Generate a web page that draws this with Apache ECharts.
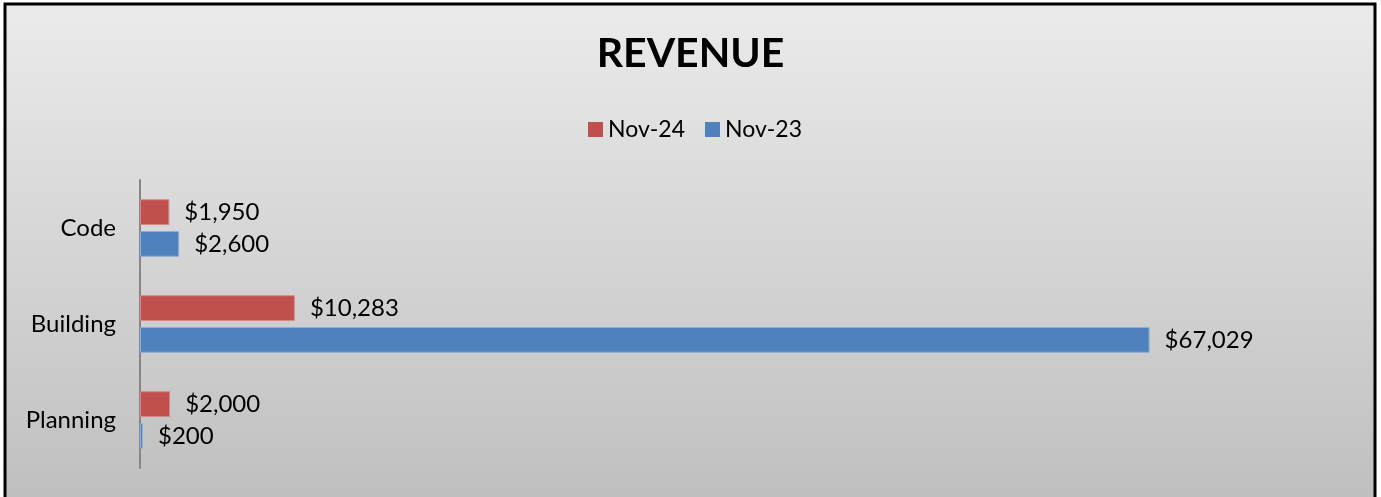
<!DOCTYPE html>
<html>
<head>
<meta charset="utf-8">
<script src="https://cdn.jsdelivr.net/npm/echarts@6/dist/echarts.min.js"></script>
<style>
  html, body { margin: 0; padding: 0; background: #fff; }
  #demo { width: 1381px; height: 497px; }
</style>
</head>
<body>
<div id="demo"></div>
<script>
// data (Excel order: first category at the bottom)
var categories = ['Planning', 'Building', 'Code'];
var nov24 = [2000, 10283, 1950];
var nov23 = [200, 67029, 2600];
var seriesNames = ['Nov-24', 'Nov-23'];

var myChart = echarts.init(document.getElementById('demo'));

function money(p) {
    return '$' + p.value.toLocaleString('en-US');
}

var labelStyle = {
    show: true,
    position: 'right',
    distance: 15,
    color: '#000',
    fontFamily: 'Lato',
    fontSize: 24,
    formatter: money
};

option = {
    backgroundColor: '#fff',
    textStyle: { fontFamily: 'Lato' },
    graphic: [
        {
            type: 'rect',
            z: -10,
            silent: true,
            shape: { x: 5, y: 4, width: 1370, height: 520 },
            style: {
                fill: new echarts.graphic.LinearGradient(0, 0, 0, 1, [
                    { offset: 0, color: '#ebebeb' },
                    { offset: 1, color: '#bdbdbd' }
                ]),
                stroke: '#000',
                lineWidth: 3
            }
        }
    ],
    title: {
        text: 'REVENUE',
        left: 'center',
        top: 28,
        textStyle: {
            fontFamily: 'Lato',
            fontWeight: 'bold',
            fontSize: 41,
            color: '#000'
        }
    },
    legend: {
        data: seriesNames,
        left: 583,
        top: 113,
        itemWidth: 15,
        itemHeight: 15,
        itemGap: 20,
        icon: 'rect',
        itemStyle: { borderWidth: 0 },
        textStyle: { fontFamily: 'Lato', fontSize: 23, color: '#000' }
    },
    color: ['#C0504D', '#4F81BD'],
    grid: {
        left: 140,
        right: 36,
        top: 180,
        bottom: 29,
        containLabel: false
    },
    xAxis: {
        type: 'value',
        min: 0,
        max: 80000,
        show: false,
        splitLine: { show: false }
    },
    yAxis: {
        type: 'category',
        data: categories,
        axisLine: { show: true, lineStyle: { color: '#868686', width: 2 } },
        axisTick: { show: false },
        axisLabel: {
            margin: 24,
            color: '#000',
            fontFamily: 'Lato',
            fontSize: 24
        }
    },
    series: [
        {
            name: 'Nov-24',
            type: 'bar',
            data: nov24,
            barGap: '23%',
            barCategoryGap: '40%',
            itemStyle: { borderColor: '#d98a88', borderWidth: 1 },
            label: labelStyle
        },
        {
            name: 'Nov-23',
            type: 'bar',
            data: nov23,
            barGap: '23%',
            barCategoryGap: '40%',
            itemStyle: { borderColor: '#8db0dc', borderWidth: 1 },
            label: labelStyle
        }
    ]
};

myChart.setOption(option);
</script>
</body>
</html>
